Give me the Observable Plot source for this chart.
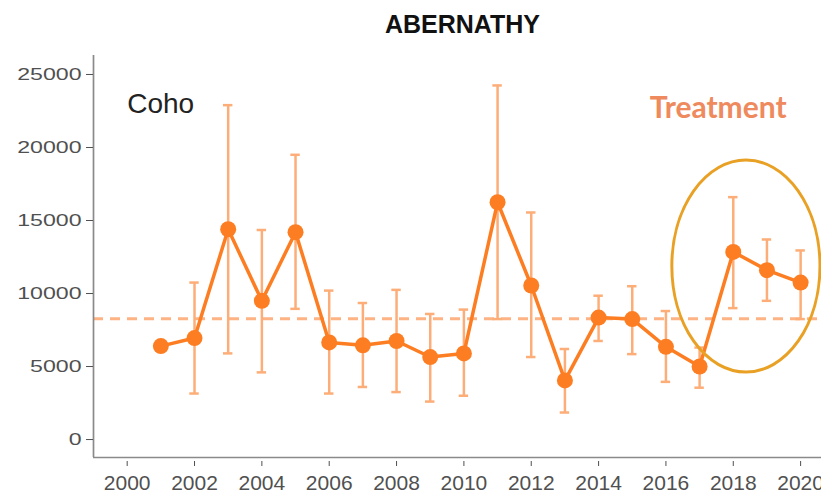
<!DOCTYPE html>
<html><head><meta charset="utf-8">
<script src="https://cdn.jsdelivr.net/npm/d3@7"></script>
<script src="https://cdn.jsdelivr.net/npm/@observablehq/plot@0.6"></script>
<style>body{margin:0;background:#fff}</style>
</head><body><div id="chart"></div>
<script>
// ---- data ----
const years  = [2001,2002,2003,2004,2005,2006,2007,2008,2009,2010,2011,2012,2013,2014,2015,2016,2017,2018,2019,2020];
const counts = [6400,6950,14400,9500,14200,6650,6450,6750,5650,5900,16250,10550,4050,8350,8250,6350,5000,12850,11600,10750];
const upper  = [null,10750,22900,14350,19500,10200,9350,10250,8600,8900,24250,15550,6200,9850,10500,8800,6300,16600,13700,12950];
const lower  = [null,3150,5900,4600,8950,3150,3600,3250,2600,3000,8250,5650,1850,6750,5850,3950,3550,9000,9500,8250];
const meanLevel = [8270];
const xTicks = [2000,2002,2004,2006,2008,2010,2012,2014,2016,2018,2020];
const yTicks = [0,5000,10000,15000,20000,25000];
const titleText = ["ABERNATHY"];
const speciesLabel = [{text:"Coho", x:2000, y:22330}];
const treatmentLabel = [{text:"Treatment", x:2017.55, y:22050}];
const treatmentEllipse = {cx:2018.39, cy:11850, rx:2.2, ry:7260};
const xDomain = [1999, 2020.62];
const yDomain = [-1230, 26300];

const data = years.map((year,i)=>({year, count:counts[i], hi:upper[i], lo:lower[i]}));
const bars = data.filter(d=>d.hi!=null);

const ORANGE = "#FD7E22";
const LIGHT = "#FDAE78";
const AXIS = "#8a8a8a";
const TXT = "#505050";

const ellipseMark = (index, scales) => {
  const ns = "http://www.w3.org/2000/svg";
  const g = document.createElementNS(ns, "g");
  const e = document.createElementNS(ns, "ellipse");
  const {x, y} = scales;
  const E = treatmentEllipse;
  e.setAttribute("cx", x(E.cx));
  e.setAttribute("cy", y(E.cy));
  e.setAttribute("rx", Math.abs(x(E.cx + E.rx) - x(E.cx)));
  e.setAttribute("ry", Math.abs(y(E.cy - E.ry) - y(E.cy)));
  e.setAttribute("fill", "none");
  e.setAttribute("stroke", "#E9A125");
  e.setAttribute("stroke-width", 3);
  g.appendChild(e);
  return g;
};

const plot = Plot.plot({
  width: 821, height: 499,
  marginLeft: 93, marginRight: 0, marginTop: 55, marginBottom: 42,
  style: {fontFamily: "'Liberation Sans', Arial, sans-serif", background: "#fff", overflow: "visible"},
  x: {domain: xDomain},
  y: {domain: yDomain},
  marks: [
    Plot.ruleY(meanLevel, {stroke: "#FDB384", strokeWidth: 3, strokeDasharray: "10,7"}),
    Plot.ruleX(bars, {x: "year", y1: "lo", y2: "hi", stroke: LIGHT, strokeWidth: 2.5}),
    Plot.ruleY(bars, {y: "hi", x1: d => d.year - 0.14, x2: d => d.year + 0.14, stroke: LIGHT, strokeWidth: 2.5}),
    Plot.ruleY(bars, {y: "lo", x1: d => d.year - 0.14, x2: d => d.year + 0.14, stroke: LIGHT, strokeWidth: 2.5}),
    Plot.line(data, {x: "year", y: "count", stroke: ORANGE, strokeWidth: 3.5}),
    Plot.dot(data, {x: "year", y: "count", r: 8, fill: ORANGE}),
    Plot.ruleX([xDomain[0]], {stroke: AXIS, strokeWidth: 1.7}),
    Plot.ruleY([yDomain[0]], {stroke: AXIS, strokeWidth: 1.7}),
    Plot.axisY(yTicks, {anchor: "left", tickFormat: d => String(d), tickSize: 7, tickPadding: 5, fontSize: 17, color: TXT, label: null}),
    Plot.axisX(xTicks, {anchor: "bottom", tickFormat: d => String(d), tickSize: 5, tickPadding: 9, dy: 4, fontSize: 21, color: TXT, label: null}),
    Plot.text(titleText, {frameAnchor: "top", dx: 5, dy: -23, lineAnchor: "bottom", fontSize: 25, fontWeight: "bold", fill: "#111", ariaLabel: "title"}),
    Plot.text(speciesLabel, {x: "x", y: "y", text: "text", textAnchor: "start", lineAnchor: "bottom", fontSize: 28, fill: "#222", ariaLabel: "species"}),
    Plot.text(treatmentLabel, {x: "x", y: "y", text: "text", textAnchor: "middle", lineAnchor: "bottom", fontSize: 30, fontWeight: "bold", fontFamily: "Lato, 'Open Sans', sans-serif", fill: "#EE8A5D", ariaLabel: "treatment"}),
    ellipseMark
  ]
});
document.getElementById("chart").appendChild(plot);

function stretch(text, factor) {
  const tr = text.getAttribute("transform");
  if (tr) {
    text.setAttribute("transform", tr + ` scale(${factor},1)`);
  } else {
    const x = +(text.getAttribute("x") || 0), y = +(text.getAttribute("y") || 0);
    text.removeAttribute("x"); text.removeAttribute("y");
    text.setAttribute("transform", `translate(${x},${y}) scale(${factor},1)`);
  }
}
function fitWidth(label, target) {
  plot.querySelectorAll(`g[aria-label="${label}"] text`).forEach(t => {
    const w = t.getComputedTextLength();
    if (w > 0) stretch(t, target / w);
  });
}
plot.querySelectorAll('g[aria-label="y-axis tick label"] text').forEach(t => stretch(t, 1.36));
fitWidth("title", 199);
fitWidth("species", 74);
fitWidth("treatment", 159);
</script>
</body></html>
